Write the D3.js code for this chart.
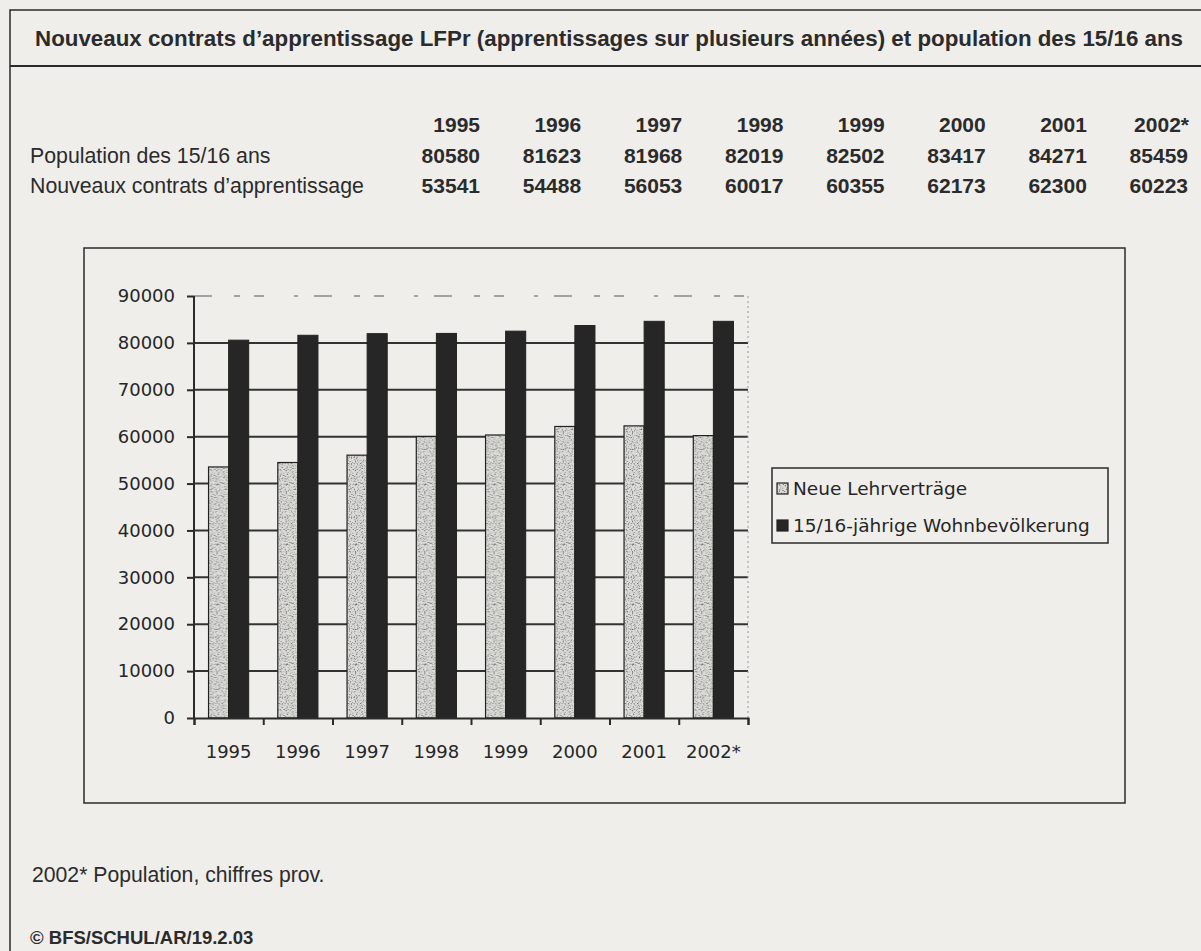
<!DOCTYPE html>
<html>
<head>
<meta charset="utf-8">
<script src="https://cdn.jsdelivr.net/npm/d3@7"></script>
<style>
  html, body { margin: 0; padding: 0; background: #efeeeb; }
  svg { display: block; }
  .sans { font-family: "Liberation Sans", Arial, sans-serif; fill: #2b2b2b; }
  .chart text { font-family: "DejaVu Sans", Verdana, sans-serif; fill: #262626; }
</style>
</head>
<body>
<svg id="page"></svg>
<script>
var years = ['1995', '1996', '1997', '1998', '1999', '2000', '2001', '2002*'];

// table values
var populationTable = [80580, 81623, 81968, 82019, 82502, 83417, 84271, 85459];
var contractsTable = [53541, 54488, 56053, 60017, 60355, 62173, 62300, 60223];

// bar heights
var contractsBars = [53541, 54488, 56053, 60017, 60355, 62173, 62300, 60223];
var populationBars = [80580, 81623, 81968, 82019, 82502, 83700, 84600, 84600];

var seriesNames = ['Neue Lehrverträge', '15/16-jährige Wohnbevölkerung'];
var yTicks = [0, 10000, 20000, 30000, 40000, 50000, 60000, 70000, 80000, 90000];

var title = 'Nouveaux contrats d\u2019apprentissage LFPr (apprentissages sur plusieurs années) et population des 15/16 ans';
var rowLabels = ['Population des 15/16 ans', 'Nouveaux contrats d\u2019apprentissage'];
var footnote = '2002* Population, chiffres prov.';
var source = '© BFS/SCHUL/AR/19.2.03';

var width = 1201,
  height = 951;

var ink = '#2b2b2b';

var svg = d3.select('#page')
  .attr('width', width)
  .attr('height', height);

var defs = svg.append('defs');

// speckled grey fill for the light series
var noise = defs.append('filter')
  .attr('id', 'speckle')
  .attr('x', 0).attr('y', 0).attr('width', 1).attr('height', 1);
noise.append('feTurbulence')
  .attr('type', 'fractalNoise')
  .attr('baseFrequency', 0.85)
  .attr('numOctaves', 2)
  .attr('seed', 3)
  .attr('result', 'n');
noise.append('feColorMatrix')
  .attr('in', 'n')
  .attr('type', 'matrix')
  .attr('values', '0 0 0 0 0.15  0 0 0 0 0.15  0 0 0 0 0.15  -3 0 0 0 1.55');
noise.append('feComposite')
  .attr('in2', 'SourceGraphic')
  .attr('operator', 'in');

var pat = defs.append('pattern')
  .attr('id', 'lightFill')
  .attr('patternUnits', 'userSpaceOnUse')
  .attr('width', 60).attr('height', 60);
pat.append('rect')
  .attr('width', 60).attr('height', 60)
  .attr('fill', '#dcdcd8');
pat.append('rect')
  .attr('width', 60).attr('height', 60)
  .attr('fill', '#fff')
  .attr('filter', 'url(#speckle)');

// outer frame
svg.append('path')
  .attr('d', 'M10,' + height + 'V10H' + width)
  .attr('fill', 'none')
  .attr('stroke', ink)
  .attr('stroke-width', 1.5);
svg.append('line')
  .attr('x1', 10).attr('x2', width)
  .attr('y1', 66).attr('y2', 66)
  .attr('stroke', ink)
  .attr('stroke-width', 2);

svg.append('text')
  .attr('class', 'sans')
  .attr('x', 35)
  .attr('y', 46)
  .attr('font-size', 22.5)
  .attr('font-weight', 'bold')
  .attr('textLength', 1148)
  .attr('lengthAdjust', 'spacingAndGlyphs')
  .text(title);

// data table
var colX = d3.scaleLinear()
  .domain([0, years.length - 1])
  .range([480, 1188]);

var rowY = d3.scaleLinear()
  .domain([0, 2])
  .range([132, 193]);

var table = svg.append('g');

table.selectAll('.year')
  .data(years)
  .enter().append('text')
  .attr('class', 'sans year')
  .attr('x', function(d, i) { return colX(i) + (d.indexOf('*') > 0 ? 1 : 0); })
  .attr('y', rowY(0))
  .attr('text-anchor', 'end')
  .attr('font-size', 21)
  .attr('font-weight', 'bold')
  .text(function(d) { return d; });

[populationTable, contractsTable].forEach(function(row, r) {
  table.append('text')
    .attr('class', 'sans')
    .attr('x', 30)
    .attr('y', rowY(r + 1))
    .attr('font-size', 21.3)
    .text(rowLabels[r]);

  table.selectAll('.v' + r)
    .data(row)
    .enter().append('text')
    .attr('class', 'sans v' + r)
    .attr('x', function(d, i) { return colX(i); })
    .attr('y', rowY(r + 1))
    .attr('text-anchor', 'end')
    .attr('font-size', 21)
    .attr('font-weight', 'bold')
    .text(function(d) { return d; });
});

// chart box
svg.append('rect')
  .attr('x', 84).attr('y', 248)
  .attr('width', 1041).attr('height', 555)
  .attr('fill', 'none')
  .attr('stroke', ink)
  .attr('stroke-width', 1.5);

var plot = { left: 194, right: 748, top: 296, bottom: 718 };

var chart = svg.append('g').attr('class', 'chart');

var x = d3.scaleBand()
  .domain(years)
  .range([plot.left, plot.right])
  .paddingInner(0.42)
  .paddingOuter(0.21);

var xSeries = d3.scaleBand()
  .domain([0, 1])
  .range([0, x.bandwidth()]);

var y = d3.scaleLinear()
  .domain([0, 90000])
  .range([plot.bottom, plot.top]);

// gridlines
chart.append('g')
  .selectAll('line')
  .data(yTicks.slice(1, -1))
  .enter().append('line')
  .attr('x1', plot.left).attr('x2', plot.right)
  .attr('y1', function(d) { return y(d); })
  .attr('y2', function(d) { return y(d); })
  .attr('stroke', '#333')
  .attr('stroke-width', 2);

chart.append('line')
  .attr('x1', plot.left).attr('x2', plot.right)
  .attr('y1', y(90000)).attr('y2', y(90000))
  .attr('stroke', '#8a8a8a')
  .attr('stroke-width', 1.5)
  .attr('stroke-dasharray', '18 22 6 14 10 30 4 16');

chart.append('line')
  .attr('x1', plot.right).attr('x2', plot.right)
  .attr('y1', plot.top).attr('y2', plot.bottom)
  .attr('stroke', '#999')
  .attr('stroke-width', 1)
  .attr('stroke-dasharray', '2 3');

// bars
var groups = chart.append('g')
  .selectAll('g')
  .data(years)
  .enter().append('g')
  .attr('transform', function(d) { return 'translate(' + x(d) + ',0)'; });

groups.append('rect')
  .attr('x', xSeries(0))
  .attr('y', function(d, i) { return y(contractsBars[i]); })
  .attr('width', xSeries.bandwidth())
  .attr('height', function(d, i) { return y(0) - y(contractsBars[i]); })
  .attr('fill', 'url(#lightFill)')
  .attr('stroke', '#222')
  .attr('stroke-width', 1.2);

groups.append('rect')
  .attr('x', xSeries(1))
  .attr('y', function(d, i) { return y(populationBars[i]); })
  .attr('width', xSeries.bandwidth())
  .attr('height', function(d, i) { return y(0) - y(populationBars[i]); })
  .attr('fill', '#262626')
  .attr('stroke', '#222')
  .attr('stroke-width', 1);

// axes
var yAxis = chart.append('g')
  .attr('transform', 'translate(' + plot.left + ',0)')
  .call(d3.axisLeft(y)
    .tickValues(yTicks)
    .tickFormat(d3.format('d'))
    .tickSize(7)
    .tickPadding(12));
yAxis.selectAll('line, path').attr('stroke', ink).attr('stroke-width', 2);
yAxis.select('.domain').attr('d', 'M0,' + plot.top + 'V' + plot.bottom);
yAxis.selectAll('text').attr('font-size', 18);

var xEdges = d3.scaleLinear()
  .domain([0, years.length])
  .range([plot.left, plot.right]);

var xTicks = chart.append('g')
  .attr('transform', 'translate(0,' + plot.bottom + ')')
  .call(d3.axisBottom(xEdges)
    .tickValues(d3.range(0, years.length + 1))
    .tickSize(7)
    .tickFormat(''));
xTicks.selectAll('line, path').attr('stroke', ink).attr('stroke-width', 2);

var xAxis = chart.append('g')
  .attr('transform', 'translate(0,' + plot.bottom + ')')
  .call(d3.axisBottom(x).tickSize(0).tickPadding(27));
xAxis.select('.domain').remove();
xAxis.selectAll('text').attr('font-size', 18);

// legend
var legend = chart.append('g');
legend.append('rect')
  .attr('x', 772).attr('y', 468)
  .attr('width', 336).attr('height', 75)
  .attr('fill', 'none')
  .attr('stroke', ink)
  .attr('stroke-width', 1.5);

var legendY = d3.scaleLinear().domain([0, 1]).range([495, 532]);

var items = legend.selectAll('.item')
  .data(seriesNames)
  .enter().append('g')
  .attr('class', 'item')
  .attr('transform', function(d, i) { return 'translate(777,' + legendY(i) + ')'; });

items.append('rect')
  .attr('x', 0).attr('y', -12)
  .attr('width', 11).attr('height', 11)
  .attr('fill', function(d, i) { return i === 0 ? 'url(#lightFill)' : '#262626'; })
  .attr('stroke', '#222')
  .attr('stroke-width', 1.2);

items.append('text')
  .attr('x', 16)
  .attr('y', 0)
  .attr('font-size', 18.5)
  .text(function(d) { return d; });

// notes
svg.append('text')
  .attr('class', 'sans')
  .attr('x', 32)
  .attr('y', 882)
  .attr('font-size', 21.2)
  .text(footnote);

svg.append('text')
  .attr('class', 'sans')
  .attr('x', 30)
  .attr('y', 944)
  .attr('font-size', 18.5)
  .attr('font-weight', 'bold')
  .text(source);
</script>
</body>
</html>
